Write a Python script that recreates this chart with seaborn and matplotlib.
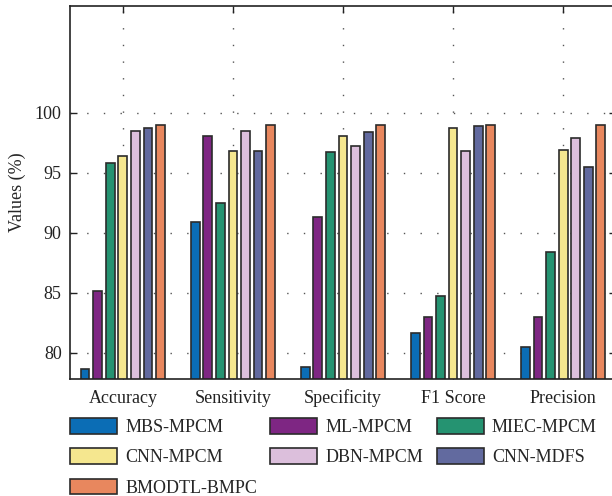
import numpy as np
import pandas as pd
import seaborn as sns
import matplotlib
matplotlib.use("Agg")
import matplotlib.pyplot as plt

# values (%)
metrics = ['Accuracy', 'Sensitivity', 'Specificity', 'F1 Score', 'Precision']
models = ['MBS-MPCM', 'ML-MPCM', 'MIEC-MPCM', 'CNN-MPCM', 'DBN-MPCM', 'CNN-MDFS', 'BMODTL-BMPC']
mbs_mpcm = [78.6, 90.9, 78.8, 81.6, 80.5]
ml_mpcm = [85.1, 98.1, 91.3, 83.0, 83.0]
miec_mpcm = [95.8, 92.5, 96.7, 84.7, 88.4]
cnn_mpcm = [96.4, 96.8, 98.1, 98.7, 96.9]
dbn_mpcm = [98.5, 98.5, 97.2, 96.8, 97.9]
cnn_mdfs = [98.7, 96.8, 98.4, 98.9, 95.5]
bmodtl_bmpc = [99.0, 99.0, 99.0, 99.0, 99.0]
colors = ['#0b6db5', '#7e2683', '#259371', '#f5e78f', '#dcbfdc', '#626a9f', '#e8875e']

series = [mbs_mpcm, ml_mpcm, miec_mpcm, cnn_mpcm, dbn_mpcm, cnn_mdfs, bmodtl_bmpc]
df = pd.DataFrame([(m, name, v) for name, vals in zip(models, series)
                   for m, v in zip(metrics, vals)],
                  columns=['Metric', 'Model', 'Value'])

sns.set_style("ticks")
plt.rcParams['font.family'] = ['Liberation Serif', 'DejaVu Serif']
fs = 13

fig = plt.figure(figsize=(6.12, 4.96), dpi=100)
ax = fig.add_axes([70 / 612, 1 - 379 / 496, 546 / 612, 373 / 496])

sns.barplot(data=df, x='Metric', y='Value', hue='Model', palette=colors,
            hue_order=models, order=metrics, width=0.8, gap=0.3, saturation=1,
            edgecolor='#2b2b2b', linewidth=1.2, ax=ax, legend=True)

ax.set_xlim(-0.48, 4.48)
ax.set_ylim(77.8, 108.9)
ax.set_yticks([80, 85, 90, 95, 100])
ax.set_axisbelow(True)
ax.grid(True, color='#555555', linestyle=(0, (1, 11)), linewidth=1.0)
ax.tick_params(direction='in', top=True, right=True, length=5, width=1.0,
               labelsize=fs, colors='#222222', pad=6)
ax.tick_params(axis='x', pad=17)
for lab in ax.get_xticklabels():
    lab.set_verticalalignment('baseline')
for s in ax.spines.values():
    s.set_color('#222222')
    s.set_linewidth(1.2)
ax.set_xlabel('')
ax.set_ylabel('Values (%)', fontsize=fs, labelpad=6)

handles, labels = ax.get_legend_handles_labels()
ax.get_legend().remove()
order = [0, 3, 6, 1, 4, 2, 5]
fig.legend([handles[i] for i in order], [labels[i] for i in order],
           ncol=3, loc='upper left', bbox_to_anchor=(70 / 612, 1 - 418 / 496),
           frameon=False, fontsize=fs, handlelength=2.6, handleheight=0.95,
           handletextpad=0.45, columnspacing=0.75, labelspacing=0.68,
           borderaxespad=0, borderpad=0)

fig.savefig('out.png', dpi=100)
